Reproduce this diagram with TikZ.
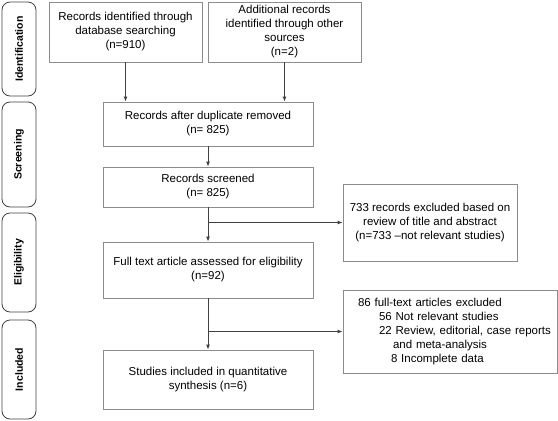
\documentclass[tikz,border=0pt]{standalone}
\usepackage{fontspec}
\setmainfont{Liberation Sans}
\usepackage{xcolor}
\usetikzlibrary{arrows.meta}

\definecolor{boxgray}{HTML}{8C8C8C}
\definecolor{linegray}{HTML}{404040}

\tikzset{
  flowbox/.style={draw=boxgray,line width=0.8pt,align=center,inner sep=0pt,
    font=\fontsize{11.5}{14}\selectfont},
  phasebox/.style={draw=linegray,line width=0.8pt,rounded corners=8pt,rotate=90,
    minimum height=34pt,inner sep=0pt,font=\fontsize{10.5}{12}\selectfont\bfseries},
  flowarrow/.style={draw=linegray,line width=0.9pt,-{Latex[length=5pt,width=4pt]}}
}

\begin{document}
\begin{tikzpicture}[x=1pt,y=-1pt]
  \useasboundingbox (0,0) rectangle (558,421);
  \node[phasebox,minimum width=94pt] (identification) at (19,49) {Identification};
  \node[phasebox,minimum width=105pt] (screening) at (19,154.5) {Screening};
  \node[phasebox,minimum width=99pt] (eligibility) at (19,262.5) {Eligibility};
  \node[phasebox,minimum width=99pt] (includedphase) at (19,369.5) {Included};

  \node[flowbox,minimum width=153pt,minimum height=60pt] (dbsearch) at (125.5,32) {Records identified through\\database searching\\(n=910)};
  \node[flowbox,minimum width=153pt,minimum height=60pt] (othersrc) at (284.5,32) {Additional records\\identified through other\\sources\\(n=2)};
  \node[flowbox,minimum width=210pt,minimum height=44pt] (dupremoved) at (208,124) {Records after duplicate removed\\(n= 825)};
  \node[flowbox,minimum width=210pt,minimum height=40pt] (screened) at (208,187) {Records screened\\(n= 825)};
  \node[flowbox,minimum width=210pt,minimum height=56pt] (fulltext) at (208,270) {Full text article assessed for eligibility\\(n=92)};
  \node[flowbox,minimum width=210pt,minimum height=59pt] (included) at (208,379.5) {Studies included in quantitative\\synthesis (n=6)};
  \node[flowbox,minimum width=174pt,minimum height=77pt] (excltitle) at (430,222.5) {733 records excluded based on\\review of title and abstract\\(n=733 –not relevant studies)};
  \node[flowbox,align=left,inner xsep=15pt,text width=184pt,minimum height=83pt] (exclfull) at (450,331.5) {\mbox{86 full-text articles excluded}\\
    \mbox{\hspace*{21pt}56 Not relevant studies}\\
    \mbox{\hspace*{21pt}22 Review, editorial, case reports}\\
    \mbox{\hspace*{35pt}and meta-analysis}\\
    \mbox{\hspace*{33pt}8 Incomplete data}};

  \draw[flowarrow] (dbsearch.south) -- (dbsearch.south |- dupremoved.north);
  \draw[flowarrow] (othersrc.south) -- (othersrc.south |- dupremoved.north);
  \draw[flowarrow] (dupremoved.south) -- (screened.north);
  \draw[flowarrow] (screened.south) -- (fulltext.north);
  \draw[flowarrow] (screened.south |- excltitle.west) -- (excltitle.west);
  \draw[flowarrow] (fulltext.south) -- (included.north);
  \draw[flowarrow] (fulltext.south |- exclfull.west) -- (exclfull.west);
\end{tikzpicture}
\end{document}
